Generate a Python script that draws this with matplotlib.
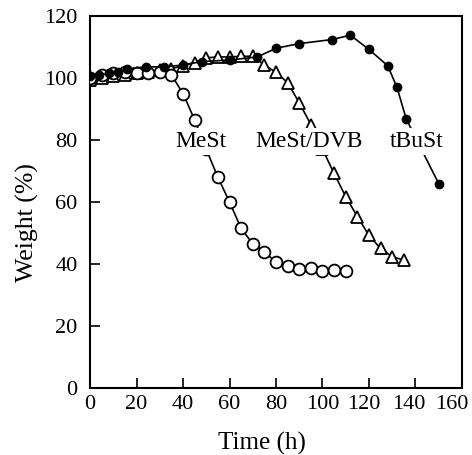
import matplotlib
matplotlib.use("Agg")
import matplotlib.pyplot as plt
from matplotlib.transforms import ScaledTranslation

# MeSt (open circles)
mest_t = [0, 5, 10, 15, 20, 25, 30, 35, 40, 45, 50, 55, 60, 65, 70, 75, 80, 85, 90, 95, 100, 105, 110]
mest_w = [100, 101, 101.5, 102, 101.5, 101.5, 102, 101, 95, 86.5, 77, 68, 60, 51.5, 46.5, 44, 40.5, 39.5, 38.5, 38.6, 37.8, 38, 37.8]

# MeSt/DVB (open triangles)
dvb_t = [0, 5, 10, 15, 20, 25, 30, 35, 40, 45, 50, 55, 60, 65, 70, 75, 80, 85, 90, 95, 100, 105, 110, 115, 120, 125, 130, 135]
dvb_w = [99.5, 100, 100.5, 101, 101.5, 102, 102.5, 103, 104, 105, 106.5, 106.8, 106.8, 107, 107, 104.2, 101.8, 98.5, 92, 85, 77, 69.2, 61.7, 55.3, 49.2, 45, 42.3, 41.3]

# tBuSt (filled circles)
tbu_t = [0, 4, 8, 12, 16, 24, 32, 40, 48, 60, 72, 80, 90, 104, 112, 120, 128, 132, 136, 150]
tbu_w = [100.5, 101, 101.5, 102, 103, 103.6, 103.6, 104.2, 105.3, 105.8, 106.8, 109.6, 111.1, 112.4, 113.8, 109.2, 104, 97.1, 86.8, 65.9]

labels = ["MeSt", "MeSt/DVB", "tBuSt"]
label_x = [47.8, 94.4, 140.5]
label_y = [79.5, 79.5, 79.5]

plt.rcParams['font.family'] = ['Liberation Serif', 'DejaVu Serif']
fig = plt.figure(figsize=(4.72, 4.55), dpi=100)
ax = fig.add_axes([0.1907, 0.1473, 0.7881, 0.8175])

lw = 1.2
ax.plot(mest_t, mest_w, '-o', color='black', mfc='white', mec='black', ms=8.5, mew=1.3, lw=lw, zorder=3)
ax.plot(dvb_t, dvb_w, '-^', color='black', mfc='white', mec='black', ms=9, mew=1.3, lw=lw, zorder=2)
ax.plot(tbu_t, tbu_w, '-o', color='black', mfc='black', mec='black', ms=6, lw=lw, zorder=4)

for s, x, y in zip(labels, label_x, label_y):
    ax.text(x, y, s, ha='center', va='center', fontsize=17, zorder=10,
            bbox=dict(boxstyle='square,pad=0.12', fc='white', ec='none'))

ax.set_xlim(0, 160)
ax.set_ylim(0, 120)
ax.set_xticks(range(0, 161, 20))
ax.set_yticks(range(0, 121, 20))
ax.tick_params(direction='in', length=7, width=1.2, labelsize=16, top=False, right=False)
ax.tick_params(axis='y', pad=9)
ax.tick_params(axis='x', pad=5)
for sp in ax.spines.values():
    sp.set_linewidth(1.5)

# shift the crowded right-hand x tick labels left a little, as in the reference
offsets = {120: -5, 140: -7, 160: -10}
fig.canvas.draw()
for tick_val, lab in zip(ax.get_xticks(), ax.get_xticklabels()):
    dx = offsets.get(int(round(tick_val)), 0)
    if dx:
        lab.set_transform(lab.get_transform() + ScaledTranslation(dx / 100, 0, fig.dpi_scale_trans))

ax.set_xlabel("Time (h)", fontsize=18)
ax.set_ylabel("Weight (%)", fontsize=18.5)
ax.xaxis.label.set_va('center')
ax.yaxis.label.set_va('center')
ax.xaxis.set_label_coords(0.462, -0.15)
ax.yaxis.set_label_coords(-0.167, 0.446)

fig.savefig("out.png", dpi=100)
